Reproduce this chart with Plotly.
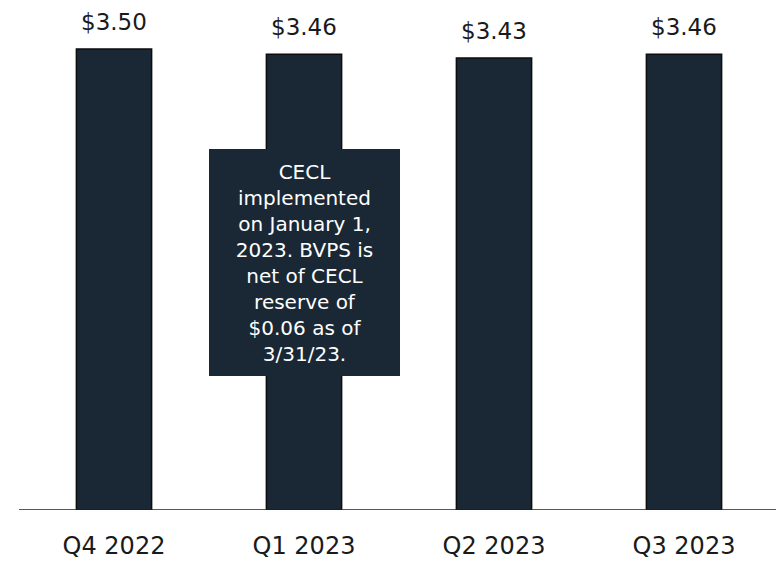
import plotly.graph_objects as go

categories = ["Q4 2022", "Q1 2023", "Q2 2023", "Q3 2023"]
bvps = [3.50, 3.46, 3.43, 3.46]
value_labels = ["$3.50", "$3.46", "$3.43", "$3.46"]
note_text = ("CECL<br>implemented<br>on January 1,<br>2023. BVPS is<br>net of CECL"
             "<br>reserve of<br>$0.06 as of<br>3/31/23.")
note_category = "Q1 2023"
note_y = 1.875

BAR_COLOR = "#1a2836"
FONT = "DejaVu Sans"

fig = go.Figure()
fig.add_trace(go.Bar(
    x=categories, y=bvps,
    marker=dict(color=BAR_COLOR, line=dict(color="#0d0d0d", width=1.5)),
    hoverinfo="skip",
))

for c, v, t in zip(categories, bvps, value_labels):
    fig.add_annotation(x=c, y=v, text=t, showarrow=False, yanchor="bottom",
                       yshift=12, font=dict(family=FONT, size=23, color="#1a1a1a"))

fig.add_annotation(x=note_category, y=note_y, text=note_text, showarrow=False,
                   xanchor="center", yanchor="middle", align="center",
                   bgcolor=BAR_COLOR, borderpad=10, borderwidth=0,
                   width=171, height=207,
                   font=dict(family=FONT, size=20, color="white"))

fig.add_shape(type="line", xref="paper", yref="y", x0=0, x1=1.02, y0=0, y1=0,
              line=dict(color="#222222", width=1.6))

fig.update_layout(
    width=784, height=563,
    margin=dict(l=11, r=13, t=14, b=56),
    paper_bgcolor="white", plot_bgcolor="white",
    bargap=0.604, showlegend=False,
    font=dict(family=FONT),
    xaxis=dict(showline=False, showgrid=False, zeroline=False,
               ticks="outside", ticklen=14, tickcolor="rgba(0,0,0,0)",
               tickfont=dict(family=FONT, size=24, color="#1a1a1a")),
    yaxis=dict(range=[0, 3.704], visible=False, showgrid=False, zeroline=False),
)

fig.write_html("out.html")
